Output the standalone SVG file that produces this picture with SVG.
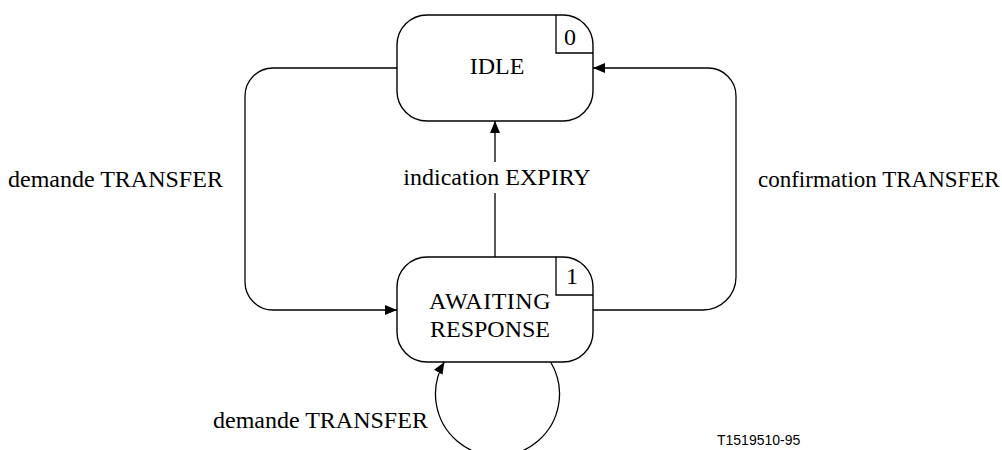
<svg xmlns="http://www.w3.org/2000/svg" width="1002" height="450" viewBox="0 0 1002 450">
<style>
.box{fill:#fff;stroke:#000;stroke-width:1.4}
.ln{fill:none;stroke:#000;stroke-width:1.3}
.t{font-family:"Liberation Serif","Times New Roman",serif;font-size:24px;fill:#000}
.m{text-anchor:middle}
.ref{font-family:"Liberation Sans",Arial,sans-serif;font-size:14px;fill:#000}
</style>
<defs>
<marker id="arr" viewBox="0 0 12 10" refX="12" refY="5" markerWidth="12" markerHeight="10" markerUnits="userSpaceOnUse" orient="auto">
<path d="M0,0 L12,5 L0,10 Z" fill="#000"/>
</marker>
</defs>
<rect width="1002" height="450" fill="#fff"/>
<g id="connectors">
<path class="ln" d="M397,68 H273 A28,28 0 0 0 245,96 V282 A28,28 0 0 0 273,310 H397" marker-end="url(#arr)"/>
<path class="ln" d="M593,310 H703 A33,33 0 0 0 736,277 V96 A28,28 0 0 0 708,68 H593" marker-end="url(#arr)"/>
<path class="ln" d="M495,257 V193 M495,162 V121" marker-end="url(#arr)"/>
<path class="ln" d="M550.6,362 A62,62 0 1 1 444.4,362" marker-end="url(#arr)"/>
</g>
<g id="idle">
<rect class="box" x="397" y="15" width="196" height="106" rx="30" ry="30"/>
<path class="ln" d="M556,15 V53 H593"/>
<text class="t m" x="570" y="45">0</text>
<text class="t m" x="497" y="74">IDLE</text>
</g>
<g id="awaiting">
<rect class="box" x="397" y="257" width="196" height="105" rx="30" ry="30"/>
<path class="ln" d="M556,257 V295 H593"/>
<text class="t m" x="572" y="284">1</text>
<text class="t m" x="490" y="309" letter-spacing="0.5">AWAITING</text>
<text class="t m" x="490" y="337">RESPONSE</text>
</g>
<g id="labels">
<text class="t" x="8" y="187">demande TRANSFER</text>
<text class="t m" x="497" y="185">indication EXPIRY</text>
<text class="t" x="758" y="187" style="font-size:23px">confirmation TRANSFER</text>
<text class="t" x="213" y="428">demande TRANSFER</text>
<text class="ref" x="717" y="445">T1519510-95</text>
</g>
</svg>
